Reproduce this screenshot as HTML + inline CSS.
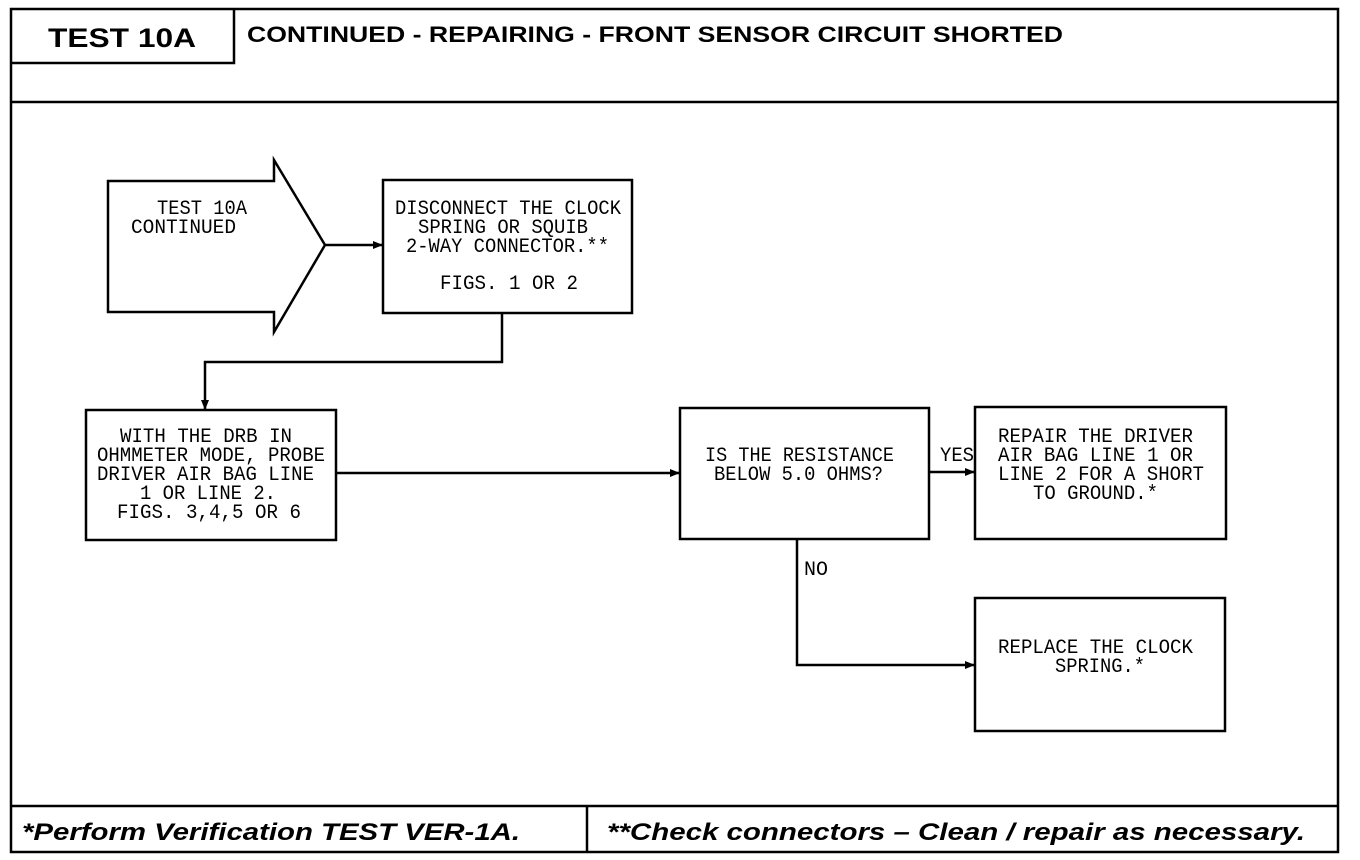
<!DOCTYPE html>
<html><head><meta charset="utf-8"><style>
html,body{margin:0;padding:0;background:#fff;}
svg{display:block;}
.m{font-family:"Liberation Mono",monospace;font-size:20px;fill:#000;}
.h{font-family:"Liberation Sans",sans-serif;font-weight:bold;fill:#000;}
</style></head><body>
<svg width="1360" height="860" viewBox="0 0 1360 860" xmlns="http://www.w3.org/2000/svg">
<defs><marker id="a" markerWidth="10" markerHeight="10" refX="9" refY="5" orient="auto" markerUnits="userSpaceOnUse"><path d="M0,1 L10,5 L0,9 Z" fill="#000"/></marker></defs>
<g fill="none" stroke="#000" stroke-width="2.5">
<rect x="11" y="9" width="1327" height="843"/>
<polyline points="11,63 234,63 234,9"/>
<line x1="11" y1="102" x2="1338" y2="102"/>
<line x1="11" y1="806" x2="1338" y2="806"/>
<line x1="587" y1="806" x2="587" y2="852"/>
<polygon points="108,181 274,181 274,160 325,245 274,332 274,312 108,312"/>
<rect x="383" y="180" width="249" height="133"/>
<rect x="86" y="410" width="250" height="130"/>
<rect x="680" y="408" width="249" height="131"/>
<rect x="975" y="407" width="251" height="132"/>
<rect x="975" y="598" width="250" height="133"/>
</g>
<g fill="none" stroke="#000" stroke-width="2.5">
<line x1="325" y1="245" x2="382" y2="245" marker-end="url(#a)"/>
<polyline points="502,313 502,362 205,362 205,409" marker-end="url(#a)"/>
<line x1="336" y1="473" x2="679" y2="473" marker-end="url(#a)"/>
<line x1="929" y1="472" x2="974" y2="472" marker-end="url(#a)"/>
<polyline points="797,539 797,665 974,665" marker-end="url(#a)"/>
</g>
<text class="h" x="48" y="47" font-size="27" textLength="148" lengthAdjust="spacingAndGlyphs">TEST 10A</text>
<text class="h" x="247" y="42" font-size="22" textLength="816" lengthAdjust="spacingAndGlyphs">CONTINUED - REPAIRING - FRONT SENSOR CIRCUIT SHORTED</text>
<text class="h" x="22" y="840" font-size="24" font-style="italic" textLength="498" lengthAdjust="spacingAndGlyphs">*Perform Verification TEST VER-1A.</text>
<text class="h" x="607" y="840" font-size="24" font-style="italic" textLength="698" lengthAdjust="spacingAndGlyphs">**Check connectors – Clean / repair as necessary.</text>
<g class="m">
<text x="157" y="214" textLength="90" lengthAdjust="spacingAndGlyphs">TEST 10A</text>
<text x="131" y="233" textLength="105" lengthAdjust="spacingAndGlyphs">CONTINUED</text>
<text x="395" y="214" textLength="226" lengthAdjust="spacingAndGlyphs">DISCONNECT THE CLOCK</text>
<text x="418" y="233" textLength="170" lengthAdjust="spacingAndGlyphs">SPRING OR SQUIB</text>
<text x="406" y="252" textLength="203" lengthAdjust="spacingAndGlyphs">2-WAY CONNECTOR.**</text>
<text x="440" y="289" textLength="138" lengthAdjust="spacingAndGlyphs">FIGS. 1 OR 2</text>
<text x="120" y="442" textLength="172" lengthAdjust="spacingAndGlyphs">WITH THE DRB IN</text>
<text x="97" y="461" textLength="228" lengthAdjust="spacingAndGlyphs">OHMMETER MODE, PROBE</text>
<text x="97" y="480" textLength="217" lengthAdjust="spacingAndGlyphs">DRIVER AIR BAG LINE</text>
<text x="140" y="499" textLength="136" lengthAdjust="spacingAndGlyphs">1 OR LINE 2.</text>
<text x="117" y="518" textLength="184" lengthAdjust="spacingAndGlyphs">FIGS. 3,4,5 OR 6</text>
<text x="705" y="461" textLength="189" lengthAdjust="spacingAndGlyphs">IS THE RESISTANCE</text>
<text x="714" y="480" textLength="169" lengthAdjust="spacingAndGlyphs">BELOW 5.0 OHMS?</text>
<text x="940" y="461" textLength="34" lengthAdjust="spacingAndGlyphs">YES</text>
<text x="998" y="442" textLength="195" lengthAdjust="spacingAndGlyphs">REPAIR THE DRIVER</text>
<text x="998" y="461" textLength="195" lengthAdjust="spacingAndGlyphs">AIR BAG LINE 1 OR</text>
<text x="998" y="480" textLength="206" lengthAdjust="spacingAndGlyphs">LINE 2 FOR A SHORT</text>
<text x="1033" y="499" textLength="125" lengthAdjust="spacingAndGlyphs">TO GROUND.*</text>
<text x="804" y="575" textLength="24" lengthAdjust="spacingAndGlyphs">NO</text>
<text x="998" y="653" textLength="195" lengthAdjust="spacingAndGlyphs">REPLACE THE CLOCK</text>
<text x="1055" y="672" textLength="90" lengthAdjust="spacingAndGlyphs">SPRING.*</text>
</g>
</svg>
</body></html>
